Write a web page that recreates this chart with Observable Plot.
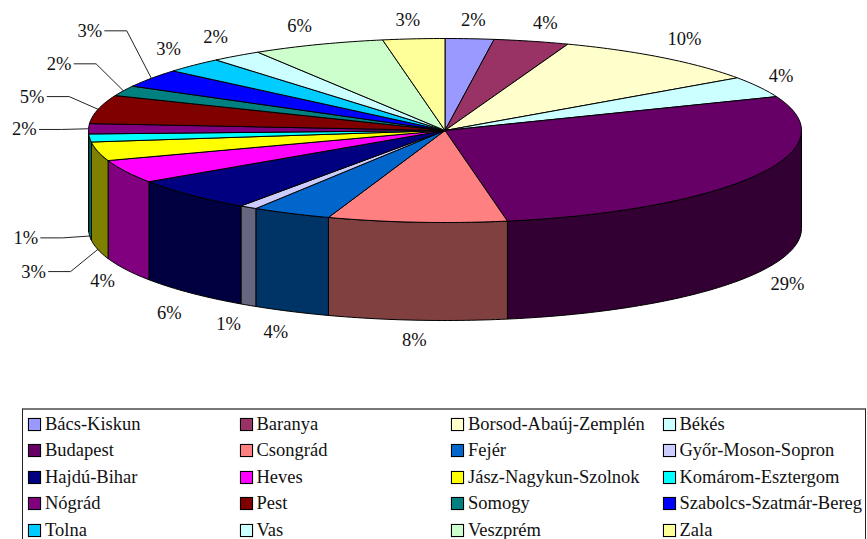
<!DOCTYPE html>
<html>
<head>
<meta charset="utf-8">
<script src="https://cdn.jsdelivr.net/npm/d3@7"></script>
<script src="https://cdn.jsdelivr.net/npm/@observablehq/plot@0.6"></script>
<style>
html,body{margin:0;padding:0;background:#fff;overflow:hidden;width:867px;height:539px}
#chart svg{display:block}
#legend{box-sizing:border-box;margin-left:22px;width:844px;height:140px;border:1px solid #222;border-top:2px solid #777;position:relative;
  font-family:"Liberation Serif","Times New Roman",serif;font-size:18.5px;color:#111;
  display:grid;grid-template-columns:211.5px 211.5px 211.5px 1fr;grid-auto-rows:26.5px;padding:1px 0 0 5px}
#legend .item{display:flex;align-items:center;white-space:nowrap}
#legend .sw{width:11px;height:11px;border:1px solid #000;margin-right:4px;box-shadow:0 0 1px #888;flex:none}
</style>
</head>
<body>
<div id="chart"></div>
<div id="legend"></div>
<script>
const counties = ["Bács-Kiskun","Baranya","Borsod-Abaúj-Zemplén","Békés","Budapest","Csongrád","Fejér","Győr-Moson-Sopron","Hajdú-Bihar","Heves","Jász-Nagykun-Szolnok","Komárom-Esztergom","Nógrád","Pest","Somogy","Szabolcs-Szatmár-Bereg","Tolna","Vas","Veszprém","Zala"];
const shares = [2.2,3.4,9.7,3.7,28.2,8.1,3.6,0.8,5.9,4.1,3.3,1.4,1.8,5.0,1.8,3.2,2.7,2.3,6.0,2.8];
const labels = ["2%","4%","10%","4%","29%","8%","4%","1%","6%","4%","3%","1%","2%","5%","2%","3%","3%","2%","6%","3%"];
const colours = ["#9999FF","#993366","#FFFFCC","#CCFFFF","#660066","#FF8080","#0066CC","#CCCCFF","#000080","#FF00FF","#FFFF00","#00FFFF","#800080","#800000","#008080","#0000FF","#00CCFF","#CCFFFF","#CCFFCC","#FFFF99"];
// the labels were hand-placed: radial reach of each one, as multiples of the ellipse radii
const labelReach = {
  "Bács-Kiskun":[1.15,1.2],
  "Baranya":[1.16,1.2],
  "Békés":[1.07,1.24],
  "Csongrád":[1.1,1.22],
  "Hajdú-Bihar":[1.083,1.32],
  "Heves":[1.073,1.28],
  "Veszprém":[1.145,1.21],
  "Zala":[1.19,1.2],
  "Jász-Nagykun-Szolnok":[1.185,2.06],
  "Komárom-Esztergom":[1.18,1.25],
  "Nógrád":[1.18,0.6],
  "Pest":[1.19,1.6],
  "Somogy":[1.2,1.68],
  "Szabolcs-Szatmár-Bereg":[1.21,1.91]
};
const withLeader = ["Jász-Nagykun-Szolnok","Komárom-Esztergom","Nógrád","Pest","Somogy","Szabolcs-Szatmár-Bereg"];
const defaultReach = [1.1,1.25];
const depth = 98/92;           // wall height, in units of the ellipse's vertical radius
const rad = d => d*Math.PI/180;
const total = d3.sum(shares);
const cum = d3.cumsum(shares);
const slices = counties.map((name,i)=>{
  const end = cum[i]/total*360, start = end - shares[i]/total*360;
  return {name,start,end,mid:(start+end)/2,colour:colours[i],label:labels[i]};
});
const rim = (t,drop=0)=>({x:Math.sin(rad(t)),y:Math.cos(rad(t))-drop});
const arc = (a,b)=>{const n=Math.max(1,Math.ceil(Math.abs(b-a)));return d3.range(n+1).map(k=>a+(b-a)*k/n)};

const topRows = slices.flatMap(s=>{
  const pts=[{x:0,y:0},...arc(s.start,s.end).map(t=>rim(t)),{x:0,y:0}];
  return pts.map(p=>({...p,slice:s.name,fill:s.colour}));
});
const wallRows = slices.flatMap(s=>{
  const a=Math.max(s.start,90), b=Math.min(s.end,270);
  if(b<=a) return [];
  const c=d3.rgb(s.colour);
  const fill=d3.rgb(c.r*.5,c.g*.5,c.b*.5).formatHex();
  const up=arc(a,b).map(t=>rim(t)), down=arc(b,a).map(t=>rim(t,depth));
  return [...up,...down,up[0]].map(p=>({...p,slice:s.name,fill}));
});

const xUnit=356.5;
const textRows=[], leaderRows=[];
slices.forEach(s=>{
  const reach=labelReach[s.name]||defaultReach;
  const p=rim(s.mid);
  const drop=Math.cos(rad(s.mid))<0?depth:0;
  const lx=p.x*reach[0], ly=p.y*reach[1]-drop;
  textRows.push({x:lx,y:ly,label:s.label});
  if(withLeader.includes(s.name)){
    const ex=lx+15/xUnit, elx=ex+22/xUnit;
    [rim(s.mid,drop),{x:elx,y:ly},{x:ex,y:ly}].forEach(q=>leaderRows.push({x:q.x,y:q.y,slice:s.name}));
  }
});

const plot = Plot.plot({
  width:867,height:408,margin:0,
  x:{domain:[-1,1],range:[88,801],axis:null},
  y:{domain:[-1,1],range:[222,38],axis:null},
  color:{type:"identity"},
  marks:[
    Plot.line(wallRows,{x:"x",y:"y",z:"slice",fill:"fill",stroke:"#000",strokeWidth:1,strokeLinejoin:"round"}),
    Plot.line(topRows,{x:"x",y:"y",z:"slice",fill:"fill",stroke:"#000",strokeWidth:1,strokeLinejoin:"round"}),
    Plot.line(leaderRows,{x:"x",y:"y",z:"slice",stroke:"#222",strokeWidth:1}),
    Plot.text(textRows,{x:"x",y:"y",text:"label",fontSize:18.5,fill:"#111",fontFamily:"Liberation Serif"})
  ]
});
document.getElementById("chart").append(plot);

const legend=document.getElementById("legend");
counties.forEach((name,i)=>{
  const item=document.createElement("div");item.className="item";
  const sw=document.createElement("span");sw.className="sw";sw.style.background=colours[i];
  const tx=document.createElement("span");tx.textContent=name;
  item.append(sw,tx);legend.append(item);
});
</script>
</body>
</html>
